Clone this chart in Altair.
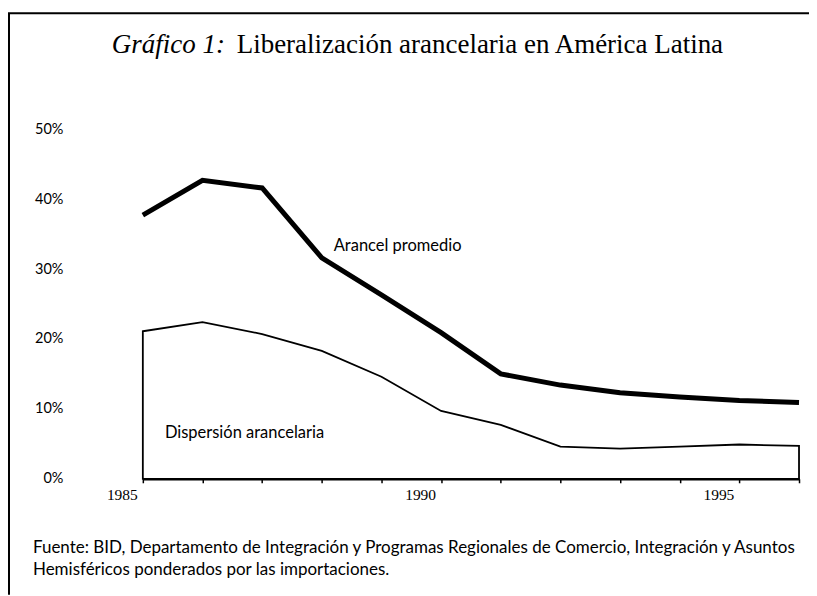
import altair as alt
import pandas as pd

# ---- data ----
years = list(range(1985, 1997))
arancel = [37.7, 42.7, 41.6, 31.6, 26.3, 20.9, 15.0, 13.4, 12.3, 11.7, 11.2, 10.9]
dispersion = [21.1, 22.4, 20.7, 18.3, 14.6, 9.7, 7.7, 4.6, 4.3, 4.6, 4.9, 4.7]

y_ticks = [0, 10, 20, 30, 40, 50]
x_ticks = years

title_italic = "Gráfico 1:"
title_main = "Liberalización arancelaria en América Latina"
source_lines = [
    "Fuente: BID, Departamento de Integración y Programas Regionales de Comercio, Integración y Asuntos",
    "Hemisféricos ponderados por las importaciones.",
]

label_texts = ["Arancel promedio", "Dispersión arancelaria"]
label_x = [1988.2, 1985.37]
label_y = [33.3, 6.6]

df = pd.DataFrame({"year": years, "arancel": arancel, "dispersion": dispersion})
labels_df = pd.DataFrame({"t": label_texts, "x": label_x, "y": label_y})
one = pd.DataFrame({"a": [0]})

SANS = "Lato"
SERIF = "Liberation Serif"

W, H = 657, 350

xscale = alt.Scale(domain=[1985, 1996], nice=False, zero=False)
yscale = alt.Scale(domain=[0, 50], nice=False)

xaxis = alt.Axis(
    values=x_ticks, title=None, grid=False,
    labelExpr="datum.value % 5 == 0 ? datum.value : ''",
    domainColor="black", domainWidth=2.5,
    tickColor="black", tickSize=4, tickWidth=1.5,
    labelFont=SERIF, labelFontSize=15.5, labelColor="black",
    labelOffset=-21, labelPadding=5, labelFlush=False,
)
yaxis = alt.Axis(
    values=y_ticks, title=None, grid=False, domain=False, ticks=False,
    labelExpr="datum.value + '%'",
    labelFont=SANS, labelFontSize=14.5, labelColor="black",
    labelPadding=80,
)

base = alt.Chart(df)

disp = base.mark_area(fill="white", fillOpacity=0, stroke="black", strokeWidth=1.8).encode(
    x=alt.X("year:Q", scale=xscale, axis=xaxis),
    y=alt.Y("dispersion:Q", scale=yscale, axis=yaxis),
)

aran = base.mark_line(color="black", strokeWidth=5, strokeJoin="miter").encode(
    x=alt.X("year:Q", scale=xscale),
    y=alt.Y("arancel:Q", scale=yscale),
)

lbls = alt.Chart(labels_df).mark_text(
    font=SANS, fontSize=16.5, align="left", baseline="middle", color="black"
).encode(
    x=alt.X("x:Q", scale=xscale),
    y=alt.Y("y:Q", scale=yscale),
    text="t:N",
)

t1 = alt.Chart(one).mark_text(
    text=title_italic, font=SERIF, fontStyle="italic", fontSize=27,
    align="left", baseline="alphabetic", color="black"
).encode(x=alt.value(-31), y=alt.value(-76))

t2 = alt.Chart(one).mark_text(
    text=title_main, font=SERIF, fontSize=27,
    align="left", baseline="alphabetic", color="black"
).encode(x=alt.value(94), y=alt.value(-76))

src = alt.Chart(one).mark_text(
    text=source_lines, font=SANS, fontSize=17, lineHeight=22,
    align="left", baseline="alphabetic", color="black"
).encode(x=alt.value(-110), y=alt.value(424))

frame_top = alt.Chart(one).mark_rule(color="black", strokeWidth=2).encode(
    x=alt.value(-135), x2=alt.value(674), y=alt.value(-116)
)
frame_left = alt.Chart(one).mark_rule(color="black", strokeWidth=2).encode(
    x=alt.value(-134), y=alt.value(-116), y2=alt.value(466)
)

chart = alt.layer(disp, aran, lbls, t1, t2, src, frame_top, frame_left).properties(
    width=W, height=H,
    autosize=alt.AutoSizeParams(type="none"),
    padding={"left": 135, "top": 121, "right": 10, "bottom": 117},
).configure_view(stroke=None)

chart.save("out.html", embed_options={"renderer": "svg", "actions": False})
